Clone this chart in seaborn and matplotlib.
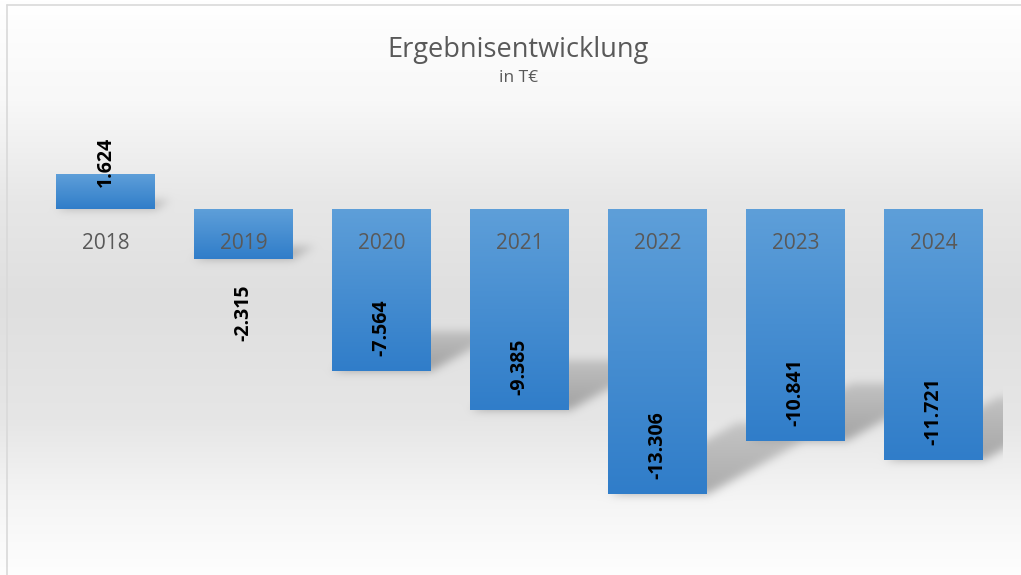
import numpy as np
import pandas as pd
import matplotlib
matplotlib.use("Agg")
import matplotlib.pyplot as plt
import seaborn as sns
from matplotlib.path import Path

# ---- data ----
years = ["2018", "2019", "2020", "2021", "2022", "2023", "2024"]
results = [1624, -2315, -7564, -9385, -13306, -10841, -11721]
value_labels = ["1.624", "-2.315", "-7.564", "-9.385", "-13.306", "-10.841", "-11.721"]
title = "Ergebnisentwicklung"
subtitle = "in T€"

W, H = 1021, 575
sns.set_theme(style="white")
plt.rcParams["font.family"] = ["Open Sans", "DejaVu Sans"]

fig = plt.figure(figsize=(W / 100, H / 100), dpi=100)
fig.patch.set_facecolor("white")

ax = fig.add_axes([36.5 / W, 34 / H, 966 / W, 430.5 / H])
ax.set_zorder(2)
ax.patch.set_alpha(0)

df = pd.DataFrame({"year": years, "value": results})
sns.barplot(data=df, x="year", y="value", ax=ax, color="#4a8fd4",
            width=0.717, saturation=1, edgecolor="none", linewidth=0)
XL = (-0.5, len(years) - 0.5)
YL = (-15500, 4600)
ax.set_xlim(*XL)
ax.set_ylim(*YL)
ax.axis("off")

# gradient fill on bars
top_c = np.array([94, 159, 217]) / 255
bot_c = np.array([48, 125, 201]) / 255
g = np.linspace(0, 1, 256)[:, None, None]
grad_img = top_c * (1 - g) + bot_c * g
bars = list(ax.patches)
for p in bars:
    x0, w = p.get_x(), p.get_width()
    y0, h = p.get_y(), p.get_height()
    lo, hi = min(y0, y0 + h), max(y0, y0 + h)
    im = ax.imshow(grad_img, extent=(x0, x0 + w, lo, hi), origin="upper",
                   aspect="auto", zorder=p.get_zorder() + 0.1, interpolation="bilinear")
    im.set_clip_path(p)
ax.set_xlim(*XL)
ax.set_ylim(*YL)

# ---- background with perspective shadows ----
yy, xx = np.mgrid[0:H, 0:W]
pts = np.column_stack([xx.ravel() + 0.5, yy.ravel() + 0.5])
mask = np.zeros((H, W))
for p in bars:
    x0, w = p.get_x(), p.get_width()
    y0, h = p.get_y(), p.get_height()
    lo, hi = min(y0, y0 + h), max(y0, y0 + h)
    (px0, py0), (px1, py1) = ax.transData.transform([[x0, lo], [x0 + w, hi]])
    L, R = px0, px1
    B = H - py0
    T = H - py1
    hs = 0.25 * (B - T)
    dx = 1.8 * hs
    poly = [(L, B), (R, B), (R + dx, B - hs), (L + dx, B - hs)]
    inside = Path(poly).contains_points(pts).reshape(H, W)
    t = np.clip((B - yy) / max(hs, 1), 0, 1)
    mask = np.maximum(mask, inside * (1 - 0.5 * t))


def blur(a, s):
    r = int(3 * s)
    k = np.exp(-0.5 * (np.arange(-r, r + 1) / s) ** 2)
    k /= k.sum()
    pad = np.pad(a, ((r, r), (0, 0)), mode="edge")
    a = sum(k[i] * pad[i:i + a.shape[0]] for i in range(2 * r + 1))
    pad = np.pad(a, ((0, 0), (r, r)), mode="edge")
    a = sum(k[i] * pad[:, i:i + a.shape[1]] for i in range(2 * r + 1))
    return a


mask = blur(mask, 4.5)
# clip shadows at the plot-area right edge
right_px = ax.transData.transform([[XL[1], 0]])[0][0]
mask[:, int(round(right_px)):] = 0

stops_y = [0, 100, 200, 300, 420, 500, 575]
stops_v = [255, 248, 231, 223, 230, 245, 254]
col = np.interp(np.arange(H), stops_y, stops_v) / 255
bg = np.repeat(col[:, None], W, axis=1)
bg = bg * (1 - 0.3 * mask)
img = np.dstack([bg, bg, bg])

ax_bg = fig.add_axes([0, 0, 1, 1])
ax_bg.set_zorder(0)
ax_bg.imshow(img, extent=(0, W, H, 0), aspect="auto", interpolation="nearest")
ax_bg.plot([7, 7], [H, 5], color="#d9d9d9", lw=1.2)
ax_bg.plot([7, W], [5, 5], color="#d9d9d9", lw=1.2)
ax_bg.set_xlim(0, W)
ax_bg.set_ylim(H, 0)
ax_bg.axis("off")

# ---- texts ----
for i, yr in enumerate(years):
    ax.annotate(yr, xy=(i, 0), xytext=(0, -40), textcoords="offset pixels",
                ha="center", va="baseline", fontsize=15, color="#595959", zorder=6)

for i, (v, lab) in enumerate(zip(results, value_labels)):
    (_, p0), (_, pv) = ax.transData.transform([[i, 0], [i, v]])
    length = abs(p0 - pv)
    if v >= 0:
        xy_off, va = -13, "bottom"
    elif length > 100:
        xy_off, va = 15, "bottom"
    else:
        xy_off, va = -26, "top"
    ax.annotate(lab, xy=(i, v), xytext=(0, xy_off), textcoords="offset pixels",
                ha="center", va=va, rotation=90, fontsize=14, fontweight="bold",
                color="black", zorder=6)

fig.text(518.5 / W, 1 - 57 / H, title, ha="center", va="baseline",
         fontsize=19.5, color="#595959")
fig.text(518.5 / W, 1 - 82 / H, subtitle, ha="center", va="baseline",
         fontsize=12.5, color="#595959")

fig.savefig("out.png", dpi=100)
